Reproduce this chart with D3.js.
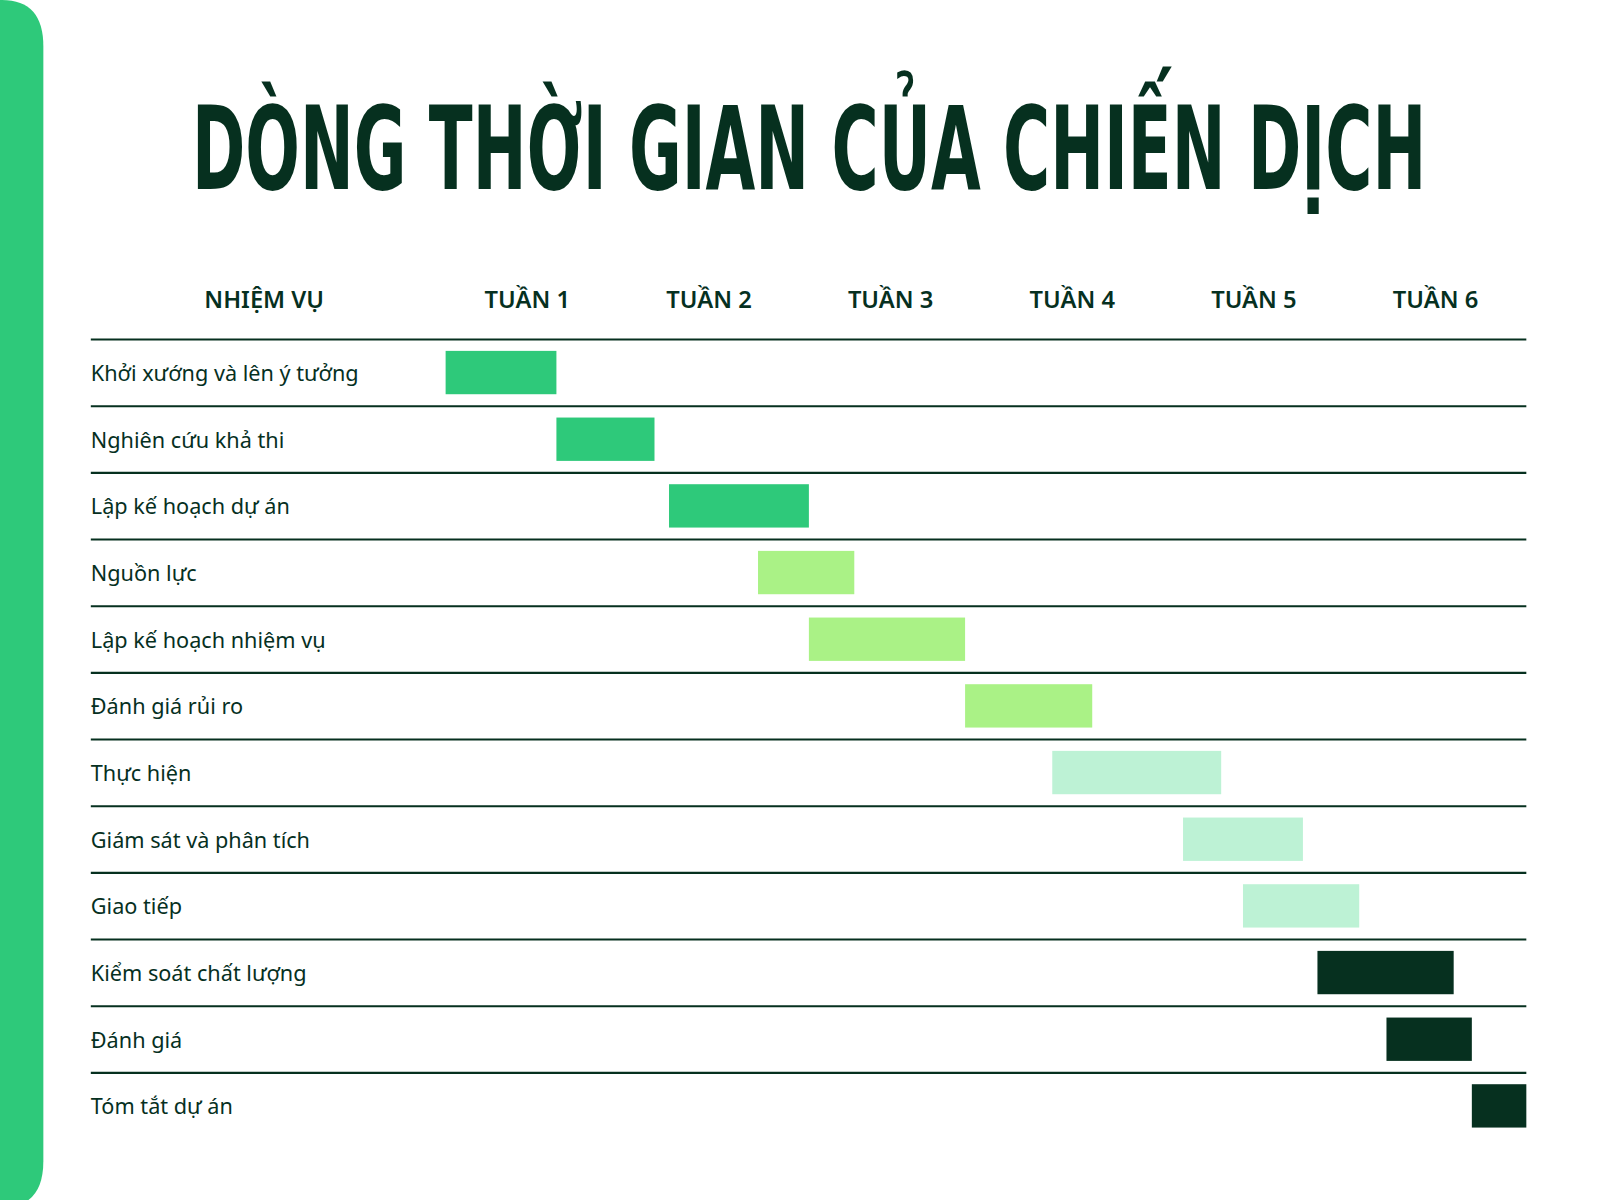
<!DOCTYPE html>
<html>
<head>
<meta charset="utf-8">
<script src="https://cdn.jsdelivr.net/npm/d3@7"></script>
<style>
body { margin:0; background:#fff; }
</style>
</head>
<body>
<svg width="1600" height="1200"></svg>
<script>
// du lieu
const tasks = ["Khởi xướng và lên ý tưởng","Nghiên cứu khả thi","Lập kế hoạch dự án","Nguồn lực",
  "Lập kế hoạch nhiệm vụ","Đánh giá rủi ro","Thực hiện","Giám sát và phân tích","Giao tiếp",
  "Kiểm soát chất lượng","Đánh giá","Tóm tắt dự án"]
const starts = [0.05,0.66,1.28,1.77,2.05,2.91,3.39,4.11,4.44,4.85,5.23,5.70]
const ends   = [0.66,1.20,2.05,2.30,2.91,3.61,4.32,4.77,5.08,5.60,5.70,6.00]
const groups = [0,0,0,1,1,1,2,2,2,3,3,3]
const weeks = ["TUẦN 1","TUẦN 2","TUẦN 3","TUẦN 4","TUẦN 5","TUẦN 6"]
const colors = ["#2ec97a","#aaf286","#bdf2d5","#06301f"]

const dark = "#06301f"
let svg = d3.select("svg").append("g").attr("transform", "scale(1.032)")

// bande verte a gauche
svg.append("path")
  .attr("d", "M0 0 L2 0 Q42 0 42 45 L42 1125 Q42 1170 2 1170 L0 1170 Z")
  .attr("fill", "#2ec97a")

svg.append("text")
  .attr("x", 784).attr("y", 183)
  .attr("text-anchor", "middle")
  .attr("textLength", 1196).attr("lengthAdjust", "spacingAndGlyphs")
  .attr("font-family", "DejaVu Sans Condensed, DejaVu Sans")
  .attr("font-weight", "bold").attr("font-size", 112)
  .attr("fill", dark)
  .text("DÒNG THỜI GIAN CỦA CHIẾN DỊCH")

let x = d3.scaleLinear().domain([0, 6]).range([423, 1479])
let y = d3.scaleBand().domain(tasks).range([329, 329 + 64.6 * 12])

svg.append("text").attr("x", 256).attr("y", 298).attr("text-anchor", "middle")
  .attr("font-family", "Noto Sans").attr("font-weight", 600).attr("font-size", 23)
  .attr("fill", dark).text("NHIỆM VỤ")

svg.selectAll(".wk").data(weeks).enter().append("text")
  .attr("x", (d, i) => x(i + 0.5)).attr("y", 298).attr("text-anchor", "middle")
  .attr("font-family", "Noto Sans").attr("font-weight", 600).attr("font-size", 23)
  .attr("fill", dark).text(d => d)

svg.selectAll(".ln").data(tasks).enter().append("line")
  .attr("x1", 88).attr("x2", 1479)
  .attr("y1", d => y(d)).attr("y2", d => y(d))
  .attr("stroke", dark).attr("stroke-width", 2)

svg.selectAll(".lbl").data(tasks).enter().append("text")
  .attr("x", 88).attr("y", d => y(d) + y.bandwidth() / 2 + 8)
  .attr("font-family", "Noto Sans").attr("font-size", 21)
  .attr("fill", dark).text(d => d)

svg.selectAll(".bar").data(tasks).enter().append("rect")
  .attr("x", (d, i) => x(starts[i]))
  .attr("width", (d, i) => x(ends[i]) - x(starts[i]))
  .attr("y", d => y(d) + 11)
  .attr("height", 42)
  .attr("fill", (d, i) => colors[groups[i]])
</script>
</body>
</html>
